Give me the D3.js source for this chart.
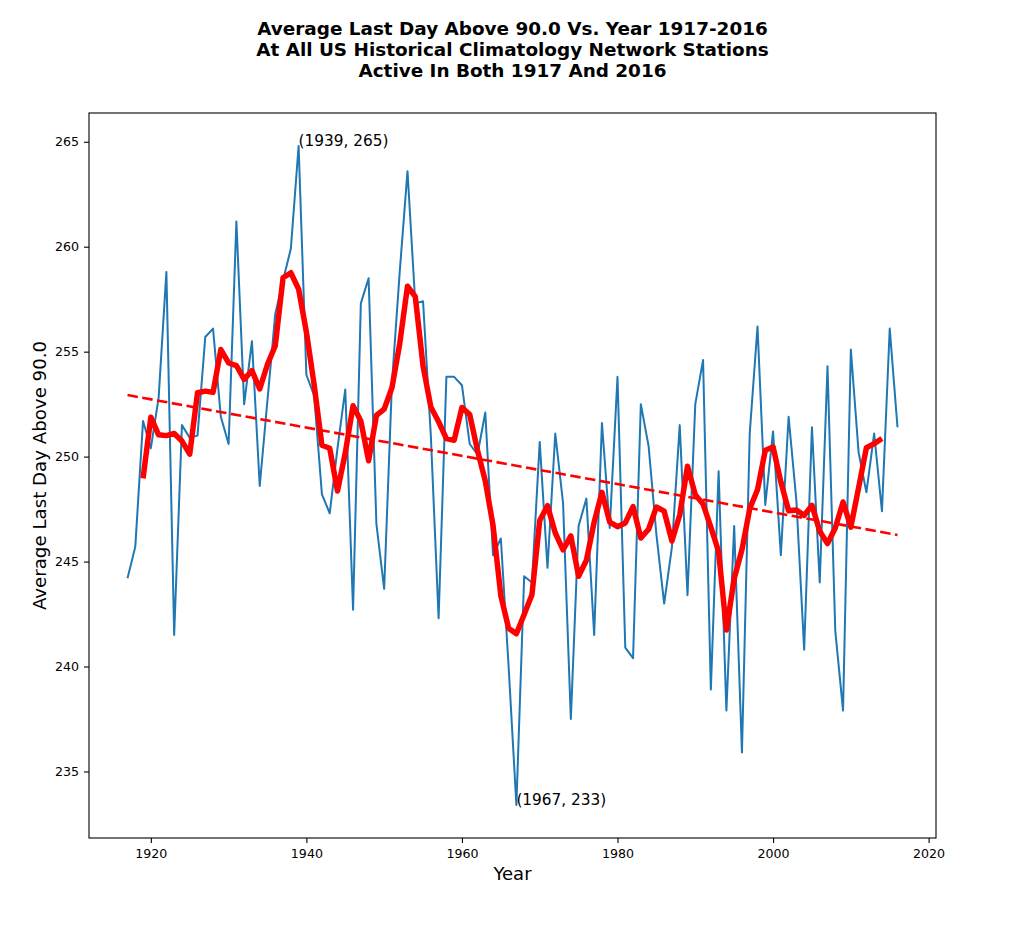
<!DOCTYPE html>
<html>
<head>
<meta charset="utf-8">
<script src="https://cdn.jsdelivr.net/npm/d3@7"></script>
<style>
  body { margin: 0; background: #fff; }
  text { font-family: "DejaVu Sans", sans-serif; fill: #000; }
</style>
</head>
<body>
<div id="my_dataviz"></div>
<script>
// average last day above 90.0, one value per year 1917-2016
var years = d3.range(1917, 2017)
var lastDay = [
  244.2, 245.7, 251.7, 250.4, 252.8, 258.8, 241.5, 251.5, 250.9, 251.0,
  255.7, 256.1, 251.9, 250.6, 261.2, 252.5, 255.5, 248.6, 252.7, 256.8,
  258.4, 259.9, 264.8, 253.9, 252.9, 248.2, 247.3, 250.4, 253.2, 242.7,
  257.3, 258.5, 246.8, 243.7, 253.5, 258.8, 263.6, 257.3, 257.4, 251.0,
  242.3, 253.8, 253.8, 253.4, 250.6, 250.1, 252.1, 245.3, 246.1, 240.0,
  233.4, 244.3, 244.0, 250.7, 244.7, 251.1, 247.8, 237.5, 246.7, 248.0,
  241.5, 251.6, 246.6, 253.8, 240.9, 240.4, 252.5, 250.5, 246.3, 243.0,
  245.7, 251.5, 243.4, 252.5, 254.6, 238.9, 249.3, 237.9, 246.7, 235.9,
  251.1, 256.2, 247.7, 251.2, 245.3, 251.9, 247.9, 240.8, 251.4, 244.0,
  254.3, 241.7, 237.9, 255.1, 250.2, 248.3, 251.1, 247.4, 256.1, 251.4
]
var xTicks = [1920, 1940, 1960, 1980, 2000, 2020]
var yTicks = [235, 240, 245, 250, 255, 260, 265]
var titleLines = [
  "Average Last Day Above 90.0 Vs. Year 1917-2016",
  "At All US Historical Climatology Network Stations",
  "Active In Both 1917 And 2016"
]

var W = 1024, H = 951
var margin = {top: 113, right: 88, bottom: 113, left: 89}
var width = W - margin.left - margin.right
var height = H - margin.top - margin.bottom

var svg = d3.select("#my_dataviz")
  .append("svg")
    .attr("width", W)
    .attr("height", H)

var g = svg.append("g")
    .attr("transform", "translate(" + margin.left + "," + margin.top + ")")

var data = years.map(function(y, i) { return {year: y, value: lastDay[i]} })

// 5 year centered running mean
var smooth = []
for (var i = 2; i < data.length - 2; i++) {
  smooth.push({year: data[i].year, value: d3.mean(data.slice(i - 2, i + 3), function(d) { return d.value })})
}

// least squares trend
var mx = d3.mean(data, function(d) { return d.year })
var my = d3.mean(data, function(d) { return d.value })
var slope = d3.sum(data, function(d) { return (d.year - mx) * (d.value - my) }) /
            d3.sum(data, function(d) { return (d.year - mx) * (d.year - mx) })
var trend = [years[0], years[years.length - 1]].map(function(y) {
  return {year: y, value: my + slope * (y - mx)}
})

// scales with matplotlib style 5% padding
var xe = d3.extent(years), xp = (xe[1] - xe[0]) * 0.05
var ye = d3.extent(lastDay), yp = (ye[1] - ye[0]) * 0.05
var x = d3.scaleLinear().domain([xe[0] - xp, xe[1] + xp]).range([0, width])
var y = d3.scaleLinear().domain([ye[0] - yp, ye[1] + yp]).range([height, 0])

var line = d3.line()
  .x(function(d) { return x(d.year) })
  .y(function(d) { return y(d.value) })

g.append("path")
    .datum(data)
    .attr("fill", "none")
    .attr("stroke", "#1f77b4")
    .attr("stroke-width", 2)
    .attr("stroke-linejoin", "round")
    .attr("d", line)

g.append("path")
    .datum(trend)
    .attr("fill", "none")
    .attr("stroke", "#ff0000")
    .attr("stroke-width", 2.6)
    .attr("stroke-dasharray", "10.5,4.5")
    .attr("d", line)

g.append("path")
    .datum(smooth)
    .attr("fill", "none")
    .attr("stroke", "#ff0000")
    .attr("stroke-width", 5.5)
    .attr("stroke-linejoin", "round")
    .attr("d", line)

// max / min annotations
var hi = data[d3.maxIndex(data, function(d) { return d.value })]
var lo = data[d3.minIndex(data, function(d) { return d.value })]
;[hi, lo].forEach(function(d) {
  g.append("text")
      .attr("x", x(d.year))
      .attr("y", y(d.value))
      .style("font-size", "15.3px")
      .text("(" + d.year + ", " + Math.round(d.value) + ")")
})

// axes
var xAxis = g.append("g")
    .attr("transform", "translate(0," + height + ")")
    .call(d3.axisBottom(x).tickValues(xTicks).tickFormat(d3.format("d")).tickSize(5).tickPadding(6))
var yAxis = g.append("g")
    .call(d3.axisLeft(y).tickValues(yTicks).tickSize(5).tickPadding(5))
;[xAxis, yAxis].forEach(function(a) {
  a.select(".domain").remove()
  a.selectAll("line").attr("stroke", "#000").attr("stroke-width", 1.1)
  a.selectAll("text").style("font-size", "12.6px").style("font-family", "DejaVu Sans").attr("fill", "#000")
})

g.append("rect")
    .attr("width", width)
    .attr("height", height)
    .attr("fill", "none")
    .attr("stroke", "#000")
    .attr("stroke-width", 1.1)

// labels
svg.append("text")
    .attr("x", margin.left + width / 2)
    .attr("y", 880)
    .attr("text-anchor", "middle")
    .style("font-size", "18px")
    .text("Year")

svg.append("text")
    .attr("transform", "translate(46," + (margin.top + height / 2) + ") rotate(-90)")
    .attr("text-anchor", "middle")
    .style("font-size", "18.2px")
    .text("Average Last Day Above 90.0")

svg.selectAll(".title")
  .data(titleLines)
  .enter()
  .append("text")
    .attr("class", "title")
    .attr("x", margin.left + width / 2)
    .attr("y", function(d, i) { return 35 + i * 20.8 })
    .attr("text-anchor", "middle")
    .style("font-size", "18.4px")
    .style("font-weight", "bold")
    .text(function(d) { return d })
</script>
</body>
</html>
